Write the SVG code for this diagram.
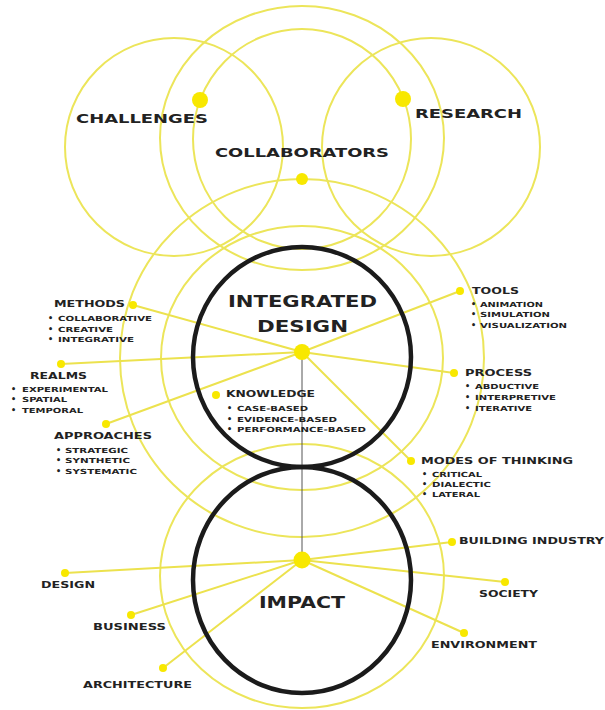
<svg xmlns="http://www.w3.org/2000/svg" width="605" height="710" viewBox="0 0 605 710">
<style>
.y{fill:none;stroke:#ece55a;stroke-width:2}
.sp{stroke:#ece24e;stroke-width:2;fill:none}
.bk{fill:none;stroke:#1b1b1b;stroke-width:4.5}
.dot{fill:#f8e800}
text{font-family:"DejaVu Sans","Liberation Sans",sans-serif;font-weight:bold;fill:#222}
.h0{font-size:16px}
.h1{font-size:13px}
.h2{font-size:9px}
.it{font-size:7px}
.bu{font-size:8px}
</style>
<rect width="605" height="710" fill="#fff"/>
<g id="rings">
<circle class="y" cx="174" cy="147" r="109"/>
<circle class="y" cx="431" cy="147" r="109"/>
<ellipse class="y" cx="302" cy="138" rx="142" ry="132"/>
<ellipse class="y" cx="302" cy="139" rx="109" ry="110"/>
<ellipse class="y" cx="302" cy="358" rx="182" ry="179"/>
<ellipse class="y" cx="302" cy="358" rx="141" ry="132"/>
<ellipse class="y" cx="302" cy="576" rx="142" ry="132"/>
</g>
<g id="connectors">
<line class="sp" x1="302" y1="352" x2="133" y2="305"/>
<line class="sp" x1="302" y1="352" x2="61" y2="364"/>
<line class="sp" x1="302" y1="352" x2="106" y2="424"/>
<line class="sp" x1="302" y1="352" x2="460" y2="291"/>
<line class="sp" x1="302" y1="352" x2="454" y2="373"/>
<line class="sp" x1="302" y1="352" x2="411" y2="461"/>
<line class="sp" x1="302" y1="560" x2="452" y2="542"/>
<line class="sp" x1="302" y1="560" x2="505" y2="582"/>
<line class="sp" x1="302" y1="560" x2="464" y2="633"/>
<line class="sp" x1="302" y1="560" x2="65" y2="573"/>
<line class="sp" x1="302" y1="560" x2="131" y2="615"/>
<line class="sp" x1="302" y1="560" x2="163" y2="668"/>
<line x1="302" y1="352" x2="302" y2="560" stroke="#555" stroke-width="1"/>
</g>
<g id="challenges">
<circle class="dot" cx="200" cy="100" r="8"/>
<text class="h1" x="76" y="123" textLength="132" lengthAdjust="spacingAndGlyphs">CHALLENGES</text>
</g>
<g id="research">
<circle class="dot" cx="403" cy="99" r="8"/>
<text class="h1" x="415" y="118" textLength="107" lengthAdjust="spacingAndGlyphs">RESEARCH</text>
</g>
<g id="collaborators">
<circle class="dot" cx="302" cy="179" r="6"/>
<text class="h1" x="215" y="157" textLength="174" lengthAdjust="spacingAndGlyphs">COLLABORATORS</text>
</g>
<g id="integrated-design">
<ellipse class="bk" cx="302" cy="357" rx="109" ry="110"/>
<circle class="dot" cx="302" cy="352" r="8"/>
<text class="h0" x="228" y="307" textLength="149" lengthAdjust="spacingAndGlyphs">INTEGRATED</text>
<text class="h0" x="257" y="332" textLength="91" lengthAdjust="spacingAndGlyphs">DESIGN</text>
</g>
<g id="impact">
<ellipse class="bk" cx="302" cy="580" rx="109" ry="113"/>
<circle class="dot" cx="302" cy="560" r="8.5"/>
<text class="h0" x="259" y="608" textLength="86" lengthAdjust="spacingAndGlyphs">IMPACT</text>
</g>
<g id="knowledge">
<circle class="dot" cx="216" cy="395" r="4"/>
<text class="h2" x="226" y="397" textLength="89" lengthAdjust="spacingAndGlyphs">KNOWLEDGE</text>
<text class="bu" x="227" y="411">•</text><text class="it" x="237" y="411" textLength="71" lengthAdjust="spacingAndGlyphs">CASE-BASED</text>
<text class="bu" x="227" y="422">•</text><text class="it" x="237" y="422" textLength="100" lengthAdjust="spacingAndGlyphs">EVIDENCE-BASED</text>
<text class="bu" x="227" y="432">•</text><text class="it" x="237" y="432" textLength="129" lengthAdjust="spacingAndGlyphs">PERFORMANCE-BASED</text>
</g>
<g id="methods">
<circle class="dot" cx="133" cy="305" r="4"/>
<text class="h2" x="54" y="307" textLength="71" lengthAdjust="spacingAndGlyphs">METHODS</text>
<text class="bu" x="48" y="321">•</text><text class="it" x="58" y="321" textLength="94" lengthAdjust="spacingAndGlyphs">COLLABORATIVE</text>
<text class="bu" x="48" y="332">•</text><text class="it" x="58" y="332" textLength="55" lengthAdjust="spacingAndGlyphs">CREATIVE</text>
<text class="bu" x="48" y="342">•</text><text class="it" x="58" y="342" textLength="76" lengthAdjust="spacingAndGlyphs">INTEGRATIVE</text>
</g>
<g id="realms">
<circle class="dot" cx="61" cy="364" r="4"/>
<text class="h2" x="30" y="379" textLength="57" lengthAdjust="spacingAndGlyphs">REALMS</text>
<text class="bu" x="11" y="392">•</text><text class="it" x="22" y="392" textLength="86" lengthAdjust="spacingAndGlyphs">EXPERIMENTAL</text>
<text class="bu" x="11" y="402">•</text><text class="it" x="22" y="402" textLength="45" lengthAdjust="spacingAndGlyphs">SPATIAL</text>
<text class="bu" x="11" y="413">•</text><text class="it" x="22" y="413" textLength="61" lengthAdjust="spacingAndGlyphs">TEMPORAL</text>
</g>
<g id="approaches">
<circle class="dot" cx="106" cy="424" r="4"/>
<text class="h2" x="54" y="439" textLength="98" lengthAdjust="spacingAndGlyphs">APPROACHES</text>
<text class="bu" x="56" y="453">•</text><text class="it" x="65" y="453" textLength="63" lengthAdjust="spacingAndGlyphs">STRATEGIC</text>
<text class="bu" x="56" y="463">•</text><text class="it" x="65" y="463" textLength="65" lengthAdjust="spacingAndGlyphs">SYNTHETIC</text>
<text class="bu" x="56" y="474">•</text><text class="it" x="65" y="474" textLength="72" lengthAdjust="spacingAndGlyphs">SYSTEMATIC</text>
</g>
<g id="tools">
<circle class="dot" cx="460" cy="291" r="4"/>
<text class="h2" x="472" y="294" textLength="47" lengthAdjust="spacingAndGlyphs">TOOLS</text>
<text class="bu" x="471" y="307">•</text><text class="it" x="480" y="307" textLength="63" lengthAdjust="spacingAndGlyphs">ANIMATION</text>
<text class="bu" x="471" y="317">•</text><text class="it" x="480" y="317" textLength="70" lengthAdjust="spacingAndGlyphs">SIMULATION</text>
<text class="bu" x="471" y="328">•</text><text class="it" x="480" y="328" textLength="87" lengthAdjust="spacingAndGlyphs">VISUALIZATION</text>
</g>
<g id="process">
<circle class="dot" cx="454" cy="373" r="4"/>
<text class="h2" x="465" y="376" textLength="67" lengthAdjust="spacingAndGlyphs">PROCESS</text>
<text class="bu" x="465" y="389">•</text><text class="it" x="475" y="389" textLength="64" lengthAdjust="spacingAndGlyphs">ABDUCTIVE</text>
<text class="bu" x="465" y="400">•</text><text class="it" x="475" y="400" textLength="81" lengthAdjust="spacingAndGlyphs">INTERPRETIVE</text>
<text class="bu" x="465" y="411">•</text><text class="it" x="475" y="411" textLength="57" lengthAdjust="spacingAndGlyphs">ITERATIVE</text>
</g>
<g id="modes-of-thinking">
<circle class="dot" cx="411" cy="461" r="4"/>
<text class="h2" x="421" y="464" textLength="152" lengthAdjust="spacingAndGlyphs">MODES OF THINKING</text>
<text class="bu" x="422" y="477">•</text><text class="it" x="432" y="477" textLength="50" lengthAdjust="spacingAndGlyphs">CRITICAL</text>
<text class="bu" x="422" y="487">•</text><text class="it" x="432" y="487" textLength="59" lengthAdjust="spacingAndGlyphs">DIALECTIC</text>
<text class="bu" x="422" y="497">•</text><text class="it" x="432" y="497" textLength="48" lengthAdjust="spacingAndGlyphs">LATERAL</text>
</g>
<g id="building-industry">
<circle class="dot" cx="452" cy="542" r="4"/>
<text class="h2" x="459" y="544" textLength="145" lengthAdjust="spacingAndGlyphs">BUILDING INDUSTRY</text>
</g>
<g id="society">
<circle class="dot" cx="505" cy="582" r="4"/>
<text class="h2" x="479" y="597" textLength="59" lengthAdjust="spacingAndGlyphs">SOCIETY</text>
</g>
<g id="environment">
<circle class="dot" cx="464" cy="633" r="4"/>
<text class="h2" x="431" y="648" textLength="106" lengthAdjust="spacingAndGlyphs">ENVIRONMENT</text>
</g>
<g id="design">
<circle class="dot" cx="65" cy="573" r="4"/>
<text class="h2" x="41" y="588" textLength="54" lengthAdjust="spacingAndGlyphs">DESIGN</text>
</g>
<g id="business">
<circle class="dot" cx="131" cy="615" r="4"/>
<text class="h2" x="93" y="630" textLength="73" lengthAdjust="spacingAndGlyphs">BUSINESS</text>
</g>
<g id="architecture">
<circle class="dot" cx="163" cy="668" r="4"/>
<text class="h2" x="83" y="688" textLength="109" lengthAdjust="spacingAndGlyphs">ARCHITECTURE</text>
</g>
</svg>
